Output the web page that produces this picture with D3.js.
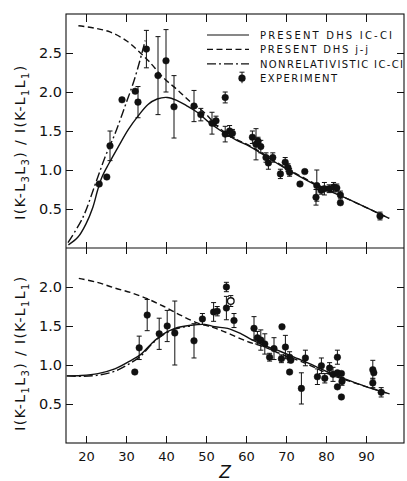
<!DOCTYPE html>
<html>
<head>
<meta charset="utf-8">
<script src="https://cdn.jsdelivr.net/npm/d3@7"></script>
<style>
body { margin: 0; background: #fff; }
text { font-family: "DejaVu Sans", sans-serif; fill: #111; }
</style>
</head>
<body>
<svg id="chart" width="407" height="481"></svg>
<script>
// tick values
var zTicks = [20, 30, 40, 50, 60, 70, 80, 90]
var topTicks = [0.5, 1.0, 1.5, 2.0, 2.5]
var botTicks = [0.5, 1.0, 1.5, 2.0]

// theory curves, [Z, ratio]
var topIcCi = [[15.6,0.04],[18,0.14],[20,0.31],[21.7,0.52],[22.9,0.74],[24,0.91],[25.7,1.08],[28.1,1.30],[30.6,1.52],[33,1.69],[35.5,1.84],[37.8,1.91],[40.3,1.93],[42.8,1.89],[45.3,1.82],[47.8,1.74],[50.3,1.63],[53.5,1.51],[57.7,1.38],[61,1.30],[68.6,1.06],[77,0.82],[85.4,0.63],[95.8,0.38]]
var topJj = [[18.1,2.85],[22,2.82],[26,2.77],[30.3,2.65],[33.6,2.50],[35.8,2.39],[39.4,2.18],[42.8,2.03],[46.2,1.87],[49.5,1.74],[53.5,1.53],[57.7,1.39],[61,1.31],[68.6,1.07],[77,0.83],[85.4,0.63],[95.8,0.38]]
var topNonrel = [[15.5,0.07],[19.2,0.39],[22.4,0.83],[24.8,1.17],[27.3,1.47],[29.7,1.81],[32.1,2.16],[34.4,2.58],[34.8,2.66]]

var botIcCi = [[15.2,0.86],[18.8,0.865],[23,0.89],[27.2,0.95],[31.3,1.06],[33.8,1.14],[36.3,1.27],[38.8,1.38],[42.2,1.47],[46.3,1.51],[49.7,1.52],[52.2,1.49],[55.4,1.47],[58.8,1.40],[61.3,1.33],[64.6,1.25],[68.8,1.17],[73,1.08],[77.1,0.99],[81.3,0.89],[85.4,0.81],[89.6,0.73],[95.9,0.63]]
var botJj = [[18.2,2.11],[22.8,2.06],[27,1.99],[31.1,1.93],[35.3,1.85],[39.5,1.75],[43.6,1.64],[47.8,1.54],[51.2,1.49],[53.5,1.45],[56.3,1.39],[60.4,1.30],[64.6,1.23],[68.8,1.14],[73,1.06],[77.1,0.97],[81.3,0.87],[85.4,0.80],[89.6,0.73],[95.9,0.63]]
var botNonrel = [[15.2,0.86],[18.8,0.855],[23,0.87],[27.2,0.92],[31.3,1.03],[33.8,1.12],[36.3,1.26],[38.8,1.37],[42.2,1.46],[46,1.50]]

// experiment, [Z, ratio, error] (error 0 = no bar)
var topExp = [[23.3,0.82,0],[25.2,0.91,0],[26.0,1.31,0.19],[29.0,1.90,0],[32.3,2.01,0],[33.0,1.87,0.2],[35.1,2.55,0.24],[38.0,2.21,0.5],[40.0,2.40,0.4],[42.0,1.81,0.4],[47.0,1.82,0.2],[48.7,1.71,0.08],[51.5,1.60,0.14],[52.5,1.63,0.06],[54.8,1.93,0.07],[54.8,1.46,0.1],[55.9,1.50,0.07],[56.6,1.47,0.05],[61.6,1.42,0.08],[62.5,1.33,0.2],[63.0,1.37,0.05],[63.7,1.30,0.08],[65.0,1.16,0.06],[65.6,1.09,0.08],[66.7,1.16,0.06],[68.6,0.95,0.06],[69.8,1.10,0.06],[70.5,1.03,0.05],[70.9,0.97,0.05],[73.5,0.82,0],[74.7,0.98,0],[77.7,0.80,0.2],[77.5,0.65,0.1],[78.8,0.74,0.05],[79.6,0.76,0.08],[80.8,0.76,0.05],[81.9,0.78,0.06],[82.7,0.77,0.05],[83.6,0.68,0.05],[83.6,0.58,0],[93.5,0.41,0.05]]
var botExp = [[32.2,0.91,0],[33.3,1.22,0.15],[35.3,1.64,0.2],[38.3,1.40,0.2],[40.3,1.50,0.2],[42.2,1.41,0.41],[47.0,1.31,0.22],[49.1,1.59,0.07],[51.9,1.68,0.12],[52.8,1.69,0.06],[55.1,2.00,0.06],[55.1,1.73,0.15],[57.0,1.57,0.09],[62.0,1.47,0.15],[62.85,1.35,0.08],[63.7,1.32,0.13],[64.7,1.27,0.13],[65.9,1.10,0.05],[67.0,1.21,0.14],[69.0,1.49,0],[69.85,1.23,0.15],[68.85,1.08,0.05],[70.9,1.10,0.07],[71.2,1.06,0],[70.9,0.91,0],[73.85,0.70,0.2],[74.85,1.09,0.1],[77.85,0.85,0.1],[78.85,0.99,0.1],[79.7,0.83,0.06],[80.9,0.96,0.07],[81.75,0.88,0.09],[82.85,1.10,0.09],[82.85,0.90,0],[83.85,0.89,0],[84.0,0.79,0.05],[82.85,0.72,0],[83.85,0.59,0],[91.7,0.94,0.12],[91.95,0.90,0],[91.7,0.77,0.06],[93.8,0.65,0.06]]
var botOpen = [[56.2,1.82,0.07]]

var legendLabels = ["PRESENT DHS IC-CI", "PRESENT DHS j-j", "NONRELATIVISTIC IC-CI", "EXPERIMENT"]
var legendWidths = [132, 108, 143, 77]

var ink = "#111"
var svg = d3.select("#chart")

var pLeft = 66, pRight = 404, pTop = 14, pMid = 248, pBottom = 443

var x = d3.scaleLinear().domain([15, 99.5]).range([pLeft, pRight])
var yTop = d3.scaleLinear().domain([0, 3]).range([pMid, pTop])
var yBot = d3.scaleLinear().domain([0, 2.5]).range([pBottom, pMid])

var dashes = {solid: null, jj: "6,3.5", nonrel: "9,3,2,3"}

function drawCurve(data, y, dash) {
	svg.append("path")
	   .datum(data)
	   .attr("fill", "none")
	   .attr("stroke", ink)
	   .attr("stroke-width", 1.4)
	   .attr("stroke-dasharray", dash)
	   .attr("d", d3.line().x(d => x(d[0])).y(d => y(d[1])).curve(d3.curveCatmullRom))
}

function drawPoints(data, y, hollow) {
	var g = svg.append("g")
	var withBar = data.filter(d => d[2] > 0)
	g.selectAll("line.bar")
	 .data(withBar)
	 .enter().append("line")
	 .attr("x1", d => x(d[0])).attr("x2", d => x(d[0]))
	 .attr("y1", d => y(d[1] - d[2])).attr("y2", d => y(d[1] + d[2]))
	 .attr("stroke", ink).attr("stroke-width", 1)
	// caps at both ends
	;[1, -1].forEach(s => {
		g.selectAll("line.cap" + s)
		 .data(withBar)
		 .enter().append("line")
		 .attr("x1", d => x(d[0]) - 2.5).attr("x2", d => x(d[0]) + 2.5)
		 .attr("y1", d => y(d[1] + s * d[2])).attr("y2", d => y(d[1] + s * d[2]))
		 .attr("stroke", ink).attr("stroke-width", 1)
	})
	g.selectAll("circle")
	 .data(data)
	 .enter().append("circle")
	 .attr("cx", d => x(d[0]))
	 .attr("cy", d => y(d[1]))
	 .attr("r", 3.3)
	 .attr("fill", hollow ? "#fff" : ink)
	 .attr("stroke", ink)
	 .attr("stroke-width", hollow ? 1.3 : 0.5)
}

// curves
drawCurve(topIcCi, yTop, dashes.solid)
drawCurve(topJj, yTop, dashes.jj)
drawCurve(topNonrel, yTop, dashes.nonrel)
drawCurve(botIcCi, yBot, dashes.solid)
drawCurve(botJj, yBot, dashes.jj)
drawCurve(botNonrel, yBot, dashes.nonrel)

drawPoints(topExp, yTop, false)
drawPoints(botExp, yBot, false)
drawPoints(botOpen, yBot, true)

// axes
function styleAxis(g) {
	g.select(".domain").remove()
	g.selectAll(".tick line").attr("stroke", ink).attr("stroke-width", 1)
	g.selectAll(".tick text").style("font-family", "DejaVu Sans").attr("fill", ink)
}

svg.append("g").attr("transform", "translate(" + pLeft + ",0)")
   .call(d3.axisLeft(yTop).tickValues(topTicks).tickSizeInner(-7).tickSizeOuter(0).tickPadding(4).tickFormat(d3.format(".1f")))
   .call(styleAxis).selectAll("text").style("font-size", "14.5px")
svg.append("g").attr("transform", "translate(" + pLeft + ",0)")
   .call(d3.axisLeft(yBot).tickValues(botTicks).tickSizeInner(-7).tickSizeOuter(0).tickPadding(4).tickFormat(d3.format(".1f")))
   .call(styleAxis).selectAll("text").style("font-size", "14.5px")
svg.append("g").attr("transform", "translate(" + pRight + ",0)")
   .call(d3.axisRight(yTop).tickValues(topTicks).tickSizeInner(-7).tickSizeOuter(0).tickFormat(""))
   .call(styleAxis)
svg.append("g").attr("transform", "translate(" + pRight + ",0)")
   .call(d3.axisRight(yBot).tickValues(botTicks).tickSizeInner(-7).tickSizeOuter(0).tickFormat(""))
   .call(styleAxis)
svg.append("g").attr("transform", "translate(0," + pTop + ")")
   .call(d3.axisTop(x).tickValues(zTicks).tickSizeInner(-8).tickSizeOuter(0).tickFormat(""))
   .call(styleAxis)
svg.append("g").attr("transform", "translate(0," + pMid + ")")
   .call(d3.axisTop(x).tickValues(zTicks).tickSizeInner(6).tickSizeOuter(0).tickFormat(""))
   .call(styleAxis)
svg.append("g").attr("transform", "translate(0," + pMid + ")")
   .call(d3.axisBottom(x).tickValues(zTicks).tickSizeInner(6).tickSizeOuter(0).tickFormat(""))
   .call(styleAxis)
svg.append("g").attr("transform", "translate(0," + pBottom + ")")
   .call(d3.axisBottom(x).tickValues(zTicks).tickSizeInner(-7).tickSizeOuter(0).tickPadding(9))
   .call(styleAxis).selectAll("text").style("font-size", "13px")

// frame
svg.append("rect")
   .attr("x", pLeft).attr("y", pTop)
   .attr("width", pRight - pLeft).attr("height", pBottom - pTop)
   .attr("fill", "none").attr("stroke", ink).attr("stroke-width", 1.1)
svg.append("line")
   .attr("x1", pLeft).attr("x2", pRight).attr("y1", pMid).attr("y2", pMid)
   .attr("stroke", ink).attr("stroke-width", 1.1)

// axis titles
function yTitle(cy, a, b) {
	var parts = [["I(K-L", 0], [a, 1], ["L", 0], [b, 1], [") / I(K-L", 0], ["1", 1], ["L", 0], ["1", 1], [")", 0]]
	var t = svg.append("text")
	   .attr("transform", "translate(25," + cy + ") rotate(-90)")
	   .attr("text-anchor", "middle")
	   .style("font-size", "14px")
	   .style("letter-spacing", "1.4px")
	var prev = 0
	parts.forEach(p => {
		var shift = p[1] ? 4 : 0
		t.append("tspan")
		 .attr("dy", shift - prev)
		 .style("font-size", p[1] ? "10px" : "14px")
		 .text(p[0])
		prev = shift
	})
}
yTitle(142, "3", "3")
yTitle(353, "1", "3")

svg.append("text")
   .attr("x", 225).attr("y", 478)
   .attr("text-anchor", "middle")
   .style("font-size", "17px").style("font-style", "italic")
   .text("Z")

// legend
var lg = svg.append("g").attr("transform", "translate(207,35)")
var rowH = 14.4
;[dashes.solid, dashes.jj, dashes.nonrel].forEach((d, i) => {
	lg.append("line")
	  .attr("x1", 0).attr("x2", 42).attr("y1", i * rowH).attr("y2", i * rowH)
	  .attr("stroke", ink).attr("stroke-width", 1.2)
	  .attr("stroke-dasharray", d)
})
lg.append("line").attr("x1", 35).attr("x2", 35).attr("y1", 3 * rowH - 6).attr("y2", 3 * rowH + 5).attr("stroke", ink)
lg.append("line").attr("x1", 32.5).attr("x2", 37.5).attr("y1", 3 * rowH - 6).attr("y2", 3 * rowH - 6).attr("stroke", ink)
lg.append("circle").attr("cx", 35).attr("cy", 3 * rowH).attr("r", 3.6).attr("fill", ink)
lg.selectAll("text.leg")
  .data(legendLabels)
  .enter().append("text")
  .attr("x", 53)
  .attr("y", (d, i) => i * rowH + 4)
  .attr("textLength", (d, i) => legendWidths[i])
  .attr("lengthAdjust", "spacing")
  .style("font-size", "10px")
  .text(d => d)
</script>
</body>
</html>
